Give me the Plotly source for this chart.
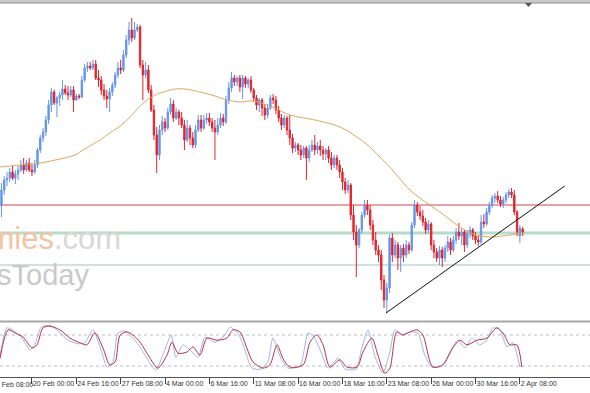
import plotly.graph_objects as go

# ---------------- data ----------------
bar_index = list(range(5, 194))

opens = [1.0915, 1.0930, 1.0940, 1.0942, 1.0948, 1.0942, 1.0946, 1.0950, 1.0955, 1.0950,
         1.0957, 1.0950, 1.0948, 1.0955, 1.0970, 1.0982, 1.0988, 1.1000, 1.1015, 1.1028,
         1.1017, 1.1022, 1.1025, 1.1031, 1.1027, 1.1025, 1.1030, 1.1020, 1.1024, 1.1023,
         1.1040, 1.1052, 1.1054, 1.1052, 1.1056, 1.1042, 1.1040, 1.1030, 1.1024, 1.1021,
         1.1028, 1.1035, 1.1045, 1.1052, 1.1050, 1.1065, 1.1080, 1.1090, 1.1082, 1.1090,
         1.1093, 1.1055, 1.1045, 1.1050, 1.1030, 1.1010, 1.0985, 1.0965, 1.0990, 1.0998,
         1.0992, 1.1008, 1.1016, 1.1002, 1.1008, 1.1002, 1.0995, 1.0980, 1.0992, 1.0982,
         1.0975, 1.0990, 1.1000, 1.0992, 1.1000, 1.1002, 1.0998, 1.0992, 1.0988, 1.0995,
         1.1002, 1.0998, 1.1020, 1.1032, 1.1042, 1.1038, 1.1042, 1.1033, 1.1042, 1.1036,
         1.1040, 1.1030, 1.1022, 1.1015, 1.1020, 1.1012, 1.1005, 1.1012, 1.1022, 1.1020,
         1.1010, 1.1002, 1.0995, 1.1002, 1.0990, 1.0982, 1.0972, 1.0975, 1.0970, 1.0965,
         1.0972, 1.0962, 1.0970, 1.0975, 1.0970, 1.0974, 1.0970, 1.0966, 1.0970, 1.0962,
         1.0955, 1.0962, 1.0955, 1.0948, 1.0938, 1.0930, 1.0935, 1.0905, 1.0888, 1.0875,
         1.0890, 1.0905, 1.0915, 1.0910, 1.0895, 1.0880, 1.0870, 1.0865, 1.0840, 1.0820,
         1.0832, 1.0882, 1.0865, 1.0875, 1.0862, 1.0872, 1.0865, 1.0875, 1.0870, 1.0895,
         1.0915, 1.0908, 1.0904, 1.0898, 1.0890, 1.0896, 1.0875, 1.0868, 1.0862, 1.0870,
         1.0862, 1.0872, 1.0878, 1.0870, 1.0880, 1.0888, 1.0884, 1.0888, 1.0875, 1.0886,
         1.0890, 1.0884, 1.0880, 1.0878, 1.0898, 1.0896, 1.0908, 1.0915, 1.0922, 1.0924,
         1.0920, 1.0916, 1.0920, 1.0925, 1.0928, 1.0925, 1.0908, 1.0884, 1.0891]

highs = [1.0937, 1.0944, 1.0948, 1.0952, 1.0954, 1.0950, 1.0954, 1.0960, 1.0962, 1.0960,
         1.0962, 1.0956, 1.0960, 1.0972, 1.0985, 1.0992, 1.1004, 1.1020, 1.1032, 1.1030,
         1.1024, 1.1028, 1.1040, 1.1035, 1.1034, 1.1034, 1.1034, 1.1026, 1.1026, 1.1044,
         1.1056, 1.1058, 1.1058, 1.1060, 1.1060, 1.1050, 1.1044, 1.1036, 1.1030, 1.1032,
         1.1038, 1.1048, 1.1058, 1.1060, 1.1070, 1.1085, 1.1098, 1.1102, 1.1098, 1.1096,
         1.1095, 1.1060, 1.1058, 1.1055, 1.1035, 1.1015, 1.0993, 1.0995, 1.1004, 1.1002,
         1.1012, 1.1022, 1.1020, 1.1012, 1.1010, 1.1008, 1.1000, 1.1000, 1.0995, 1.0988,
         1.0995, 1.1005, 1.1005, 1.1005, 1.1007, 1.1007, 1.1002, 1.1000, 1.1002, 1.1007,
         1.1006, 1.1024, 1.1038, 1.1048, 1.1045, 1.1044, 1.1045, 1.1045, 1.1044, 1.1042,
         1.1044, 1.1032, 1.1025, 1.1022, 1.1022, 1.1016, 1.1016, 1.1025, 1.1026, 1.1024,
         1.1014, 1.1006, 1.1005, 1.1004, 1.1005, 1.0986, 1.0978, 1.0977, 1.0975, 1.0974,
         1.0974, 1.0975, 1.0980, 1.0985, 1.0978, 1.0980, 1.0974, 1.0972, 1.0974, 1.0968,
         1.0965, 1.0965, 1.0960, 1.0952, 1.0942, 1.0940, 1.0937, 1.0915, 1.0895, 1.0892,
         1.0908, 1.0920, 1.0920, 1.0915, 1.0900, 1.0888, 1.0875, 1.0870, 1.0845, 1.0837,
         1.0885, 1.0887, 1.0880, 1.0878, 1.0875, 1.0876, 1.0880, 1.0878, 1.0898, 1.0920,
         1.0918, 1.0914, 1.0910, 1.0902, 1.0900, 1.0898, 1.0880, 1.0872, 1.0874, 1.0873,
         1.0875, 1.0884, 1.0882, 1.0884, 1.0892, 1.0897, 1.0892, 1.0890, 1.0890, 1.0894,
         1.0892, 1.0888, 1.0885, 1.0905, 1.0906, 1.0912, 1.0918, 1.0925, 1.0927, 1.0929,
         1.0924, 1.0923, 1.0928, 1.0931, 1.0932, 1.0930, 1.0910, 1.0895, 1.0893]

lows = [1.0903, 1.0925, 1.0934, 1.0938, 1.0940, 1.0936, 1.0940, 1.0948, 1.0946, 1.0948,
        1.0948, 1.0944, 1.0946, 1.0952, 1.0967, 1.0978, 1.0984, 1.0996, 1.1008, 1.1015,
        1.1003, 1.1014, 1.1020, 1.1025, 1.1020, 1.1023, 1.1008, 1.1019, 1.1021, 1.1022,
        1.1038, 1.1048, 1.1050, 1.1050, 1.1040, 1.1033, 1.1025, 1.1020, 1.1012, 1.1008,
        1.1024, 1.1032, 1.1042, 1.1046, 1.1048, 1.1062, 1.1075, 1.1078, 1.1080, 1.1088,
        1.1052, 1.1020, 1.1042, 1.1027, 1.1008, 1.0980, 1.0947, 1.0960, 1.0985, 1.0988,
        1.0990, 1.1005, 1.0998, 1.1000, 1.0995, 1.0992, 1.0970, 1.0978, 1.0975, 1.0972,
        1.0972, 1.0988, 1.0988, 1.0990, 1.0996, 1.0994, 1.0988, 1.0960, 1.0985, 1.0992,
        1.0994, 1.0996, 1.1016, 1.1028, 1.1034, 1.1034, 1.1028, 1.1021, 1.1032, 1.1032,
        1.1027, 1.1018, 1.1010, 1.1008, 1.1004, 1.1000, 1.1002, 1.1010, 1.1016, 1.1006,
        1.0998, 1.0990, 1.0992, 1.0985, 1.0975, 1.0967, 1.0968, 1.0965, 1.0960, 1.0962,
        1.0940, 1.0958, 1.0968, 1.0965, 1.0966, 1.0964, 1.0960, 1.0960, 1.0957, 1.0950,
        1.0952, 1.0950, 1.0942, 1.0930, 1.0926, 1.0927, 1.0900, 1.0880, 1.0843, 1.0872,
        1.0887, 1.0902, 1.0905, 1.0890, 1.0875, 1.0865, 1.0858, 1.0830, 1.0812, 1.0807,
        1.0827, 1.0858, 1.0862, 1.0850, 1.0848, 1.0858, 1.0862, 1.0866, 1.0868, 1.0892,
        1.0904, 1.0900, 1.0894, 1.0886, 1.0887, 1.0870, 1.0862, 1.0858, 1.0855, 1.0853,
        1.0858, 1.0868, 1.0865, 1.0868, 1.0876, 1.0880, 1.0875, 1.0868, 1.0872, 1.0882,
        1.0880, 1.0876, 1.0874, 1.0876, 1.0892, 1.0894, 1.0905, 1.0912, 1.0917, 1.0917,
        1.0913, 1.0912, 1.0917, 1.0922, 1.0922, 1.0905, 1.0884, 1.0877, 1.0884]

closes = [1.0930, 1.0940, 1.0942, 1.0948, 1.0942, 1.0946, 1.0950, 1.0955, 1.0950, 1.0957,
          1.0950, 1.0948, 1.0955, 1.0970, 1.0982, 1.0988, 1.1000, 1.1015, 1.1028, 1.1017,
          1.1022, 1.1025, 1.1031, 1.1027, 1.1025, 1.1030, 1.1020, 1.1024, 1.1023, 1.1040,
          1.1052, 1.1054, 1.1052, 1.1056, 1.1042, 1.1040, 1.1030, 1.1024, 1.1021, 1.1028,
          1.1035, 1.1045, 1.1052, 1.1050, 1.1065, 1.1080, 1.1090, 1.1082, 1.1090, 1.1093,
          1.1055, 1.1045, 1.1050, 1.1030, 1.1010, 1.0985, 1.0965, 1.0990, 1.0998, 1.0992,
          1.1008, 1.1016, 1.1002, 1.1008, 1.1002, 1.0995, 1.0980, 1.0992, 1.0982, 1.0975,
          1.0990, 1.1000, 1.0992, 1.1000, 1.1002, 1.0998, 1.0992, 1.0988, 1.0995, 1.1002,
          1.0998, 1.1020, 1.1032, 1.1042, 1.1038, 1.1042, 1.1033, 1.1042, 1.1036, 1.1040,
          1.1030, 1.1022, 1.1015, 1.1020, 1.1012, 1.1005, 1.1012, 1.1022, 1.1020, 1.1010,
          1.1002, 1.0995, 1.1002, 1.0990, 1.0982, 1.0972, 1.0975, 1.0970, 1.0965, 1.0972,
          1.0962, 1.0970, 1.0975, 1.0970, 1.0974, 1.0970, 1.0966, 1.0970, 1.0962, 1.0955,
          1.0962, 1.0955, 1.0948, 1.0938, 1.0930, 1.0935, 1.0905, 1.0888, 1.0875, 1.0890,
          1.0905, 1.0915, 1.0910, 1.0895, 1.0880, 1.0870, 1.0865, 1.0840, 1.0820, 1.0832,
          1.0882, 1.0865, 1.0875, 1.0862, 1.0872, 1.0865, 1.0875, 1.0870, 1.0895, 1.0915,
          1.0908, 1.0904, 1.0898, 1.0890, 1.0896, 1.0875, 1.0868, 1.0862, 1.0870, 1.0862,
          1.0872, 1.0878, 1.0870, 1.0880, 1.0888, 1.0884, 1.0888, 1.0875, 1.0886, 1.0890,
          1.0884, 1.0880, 1.0878, 1.0898, 1.0896, 1.0908, 1.0915, 1.0922, 1.0924, 1.0920,
          1.0916, 1.0920, 1.0925, 1.0928, 1.0925, 1.0908, 1.0888, 1.0892, 1.0888]

ma_index = [4.5, 11.7, 18.9, 26.1, 31.5, 34.4, 36.9, 40.5, 44.1, 47.8,
            51.4, 55, 58.6, 62.2, 67.6, 71.2, 76.6, 82, 86.3, 91,
            95.7, 101.8, 109, 118.1, 127.1, 133.2, 137.9, 142.6, 145.1, 152.3,
            159.5, 164.2, 169.3, 175.1, 181.2, 188.4, 193.8]
ma_values = [1.0953, 1.0955, 1.0957, 1.0961, 1.0965, 1.0970, 1.0974, 1.0980, 1.0987, 1.0994,
             1.1003, 1.1014, 1.1022, 1.1027, 1.1031, 1.1031, 1.1028, 1.1024, 1.1020, 1.1018,
             1.1019, 1.1014, 1.1005, 1.1000, 1.0993, 1.0983, 1.0973, 1.0960, 1.0953, 1.0930,
             1.0915, 1.0906, 1.0895, 1.0886, 1.0883, 1.0885, 1.0887]

stoch_k_index = [4.5, 7, 9.9, 12.4, 15.3, 17.1, 19.3, 22.5, 25.4, 29,
                 32.6, 35.1, 38, 40.9, 43.1, 45.2, 47, 49.5, 51.7, 54.2,
                 57.8, 60.7, 63.6, 66.2, 67.9, 70.5, 73, 75.9, 78.4, 82,
                 85.3, 87.4, 90.3, 92.8, 95.3, 98.6, 101.1, 102.9, 105.8, 108.3,
                 112.7, 115.6, 117.7, 120, 122.8, 126.4, 128.9, 132.9, 135, 137.2,
                 139.7, 142.6, 145.1, 146.9, 149.4, 152.3, 155.2, 157.7, 160.3, 164.2,
                 166.8, 169.6, 172.2, 174.7, 177.6, 180.1, 182.3, 184.8, 187.3, 189.5, 192]
stoch_k = [41, 94, 86, 74, 51, 63, 95, 99, 88, 70,
           63, 65, 90, 51, 18, 28, 84, 88, 78, 63,
           32, 12, 47, 80, 37, 61, 51, 37, 76, 66,
           78, 95, 84, 51, 16, 14, 28, 74, 35, 16,
           20, 84, 76, 51, 16, 35, 14, 14, 55, 90,
           39, 6, 47, 90, 80, 86, 84, 41, 18, 22,
           47, 70, 55, 74, 61, 70, 94, 90, 57, 65, 18]

stoch_d_index = [4.5, 7.4, 9.9, 12.8, 16, 17.8, 20, 22.5, 26.1, 29.7,
                 33.3, 35.8, 38.7, 41.6, 44.1, 46, 47.8, 50.3, 52.4, 55,
                 58.6, 61.4, 64.7, 66.5, 68.7, 71.9, 74.1, 76.6, 79.1, 82.7,
                 86.3, 88.5, 91, 93.5, 95.7, 99.3, 101.8, 104.4, 106.5, 109,
                 113.8, 116.3, 118.8, 121, 123.5, 127.1, 129.6, 133.3, 135.4, 138.6,
                 140.8, 143.3, 145.1, 147.6, 149.8, 152.3, 154.9, 157, 160.6, 164.2,
                 167.8, 170.4, 172.9, 176.5, 180.1, 183.7, 185.9, 188.4, 190.9, 192.7]
stoch_d = [35, 90, 84, 76, 55, 61, 94, 97, 90, 74,
           65, 61, 84, 55, 22, 28, 80, 86, 80, 66,
           35, 16, 41, 66, 45, 47, 57, 41, 74, 70,
           74, 90, 86, 55, 28, 16, 22, 61, 35, 18,
           22, 66, 80, 61, 18, 32, 18, 18, 47, 74,
           41, 6, 16, 86, 80, 86, 90, 80, 18, 22,
           55, 70, 61, 70, 74, 94, 84, 61, 61, 18]
stoch_levels = [20, 80]

level_prices = [1.0915, 1.0887, 1.0855]
trend_index = [143.7, 208.2]
trend_price = [1.0807, 1.0934]

tick_index = [16, 32, 48, 64, 80, 96, 112, 128, 144, 160, 176, 192]
tick_labels = ["20 Feb 00:00", "24 Feb 16:00", "27 Feb 08:00", "4 Mar 00:00",
               "6 Mar 16:00", "11 Mar 08:00", "16 Mar 00:00", "18 Mar 16:00",
               "23 Mar 08:00", "26 Mar 00:00", "30 Mar 16:00", "2 Apr 08:00"]
first_tick_index = 0
first_tick_label = "17 Feb 08:00"

# ---------------- styling / layout ----------------
W, H = 590, 393
MB = 16
PH = H - MB
X_RANGE = [4.47, 217.3]
BULL = "#6495ED"
BEAR = "#E3232C"
FONT = "Liberation Sans Narrow, Liberation Sans, Arial, sans-serif"


def py(px):
    return (PH - px) / PH


def px_of_index(i):
    return (i - X_RANGE[0]) / (X_RANGE[1] - X_RANGE[0]) * W


fig = go.Figure()

fig.add_trace(go.Candlestick(
    x=bar_index, open=opens, high=highs, low=lows, close=closes,
    increasing=dict(line=dict(color=BULL, width=1), fillcolor=BULL),
    decreasing=dict(line=dict(color=BEAR, width=1), fillcolor=BEAR),
    whiskerwidth=0, showlegend=False, hoverinfo="skip",
    xaxis="x", yaxis="y"))

fig.add_trace(go.Scatter(
    x=ma_index, y=ma_values, mode="lines",
    line=dict(color="#E2A65C", width=1, shape="spline", smoothing=0.8),
    showlegend=False, hoverinfo="skip", xaxis="x", yaxis="y"))

fig.add_trace(go.Scatter(
    x=trend_index, y=trend_price, mode="lines",
    line=dict(color="#111111", width=1),
    showlegend=False, hoverinfo="skip", xaxis="x", yaxis="y"))

fig.add_trace(go.Scatter(
    x=stoch_k_index, y=stoch_k, mode="lines",
    line=dict(color="#9DB6E6", width=1, shape="spline", smoothing=0.6),
    showlegend=False, hoverinfo="skip", xaxis="x2", yaxis="y2"))

fig.add_trace(go.Scatter(
    x=stoch_d_index, y=stoch_d, mode="lines",
    line=dict(color="#B8304A", width=1, shape="spline", smoothing=0.8),
    showlegend=False, hoverinfo="skip", xaxis="x2", yaxis="y2"))

level_styles = [dict(color="#D04848", width=1),
                dict(color="#B5DCC8", width=3),
                dict(color="#9CC7BE", width=1)]
shapes = []
for lv, st in zip(level_prices, level_styles):
    shapes.append(dict(type="line", xref="paper", yref="y", x0=0, x1=1,
                       y0=lv, y1=lv, line=st, layer="below"))
for lv in stoch_levels:
    shapes.append(dict(type="line", xref="paper", yref="y2", x0=0, x1=1,
                       y0=lv, y1=lv, line=dict(color="#BDBDBD", width=1, dash="dot"),
                       layer="below"))
# window frame details
shapes.append(dict(type="rect", xref="paper", yref="paper", x0=0, x1=1,
                   y0=py(3), y1=1, fillcolor="#C9C9C9", line=dict(width=0)))
shapes.append(dict(type="line", xref="paper", yref="paper", x0=0, x1=1,
                   y0=py(3), y1=py(3), line=dict(color="#8C8C8C", width=1)))
shapes.append(dict(type="line", xref="paper", yref="paper", x0=0, x1=1,
                   y0=py(321.5), y1=py(321.5), line=dict(color="#A6A6A6", width=2)))
shapes.append(dict(type="path", xref="paper", yref="paper",
                   path=f"M {525/W} {py(3)} L {532/W} {py(3)} L {528.5/W} {py(7)} Z",
                   fillcolor="#555555", line=dict(width=0)))

annotations = [
    dict(xref="paper", yref="paper", x=123 / W, y=py(258), xanchor="right", yanchor="bottom",
         text="<span style='color:#F5C3A2'>economies</span><span style='color:#D8D8D8'>.com</span>",
         showarrow=False, font=dict(family="Liberation Sans, Arial", size=31)),
    dict(xref="paper", yref="paper", x=91 / W, y=py(257), xanchor="right", yanchor="top",
         text="NewsToday", showarrow=False,
         font=dict(family="Liberation Sans, Arial", size=29, color="#C9C9C9")),
    dict(xref="paper", yref="paper", x=(px_of_index(first_tick_index) + 2) / W, y=py(379),
         xanchor="left", yanchor="top", text=first_tick_label, showarrow=False,
         font=dict(family=FONT, size=7, color="#333333")),
]

fig.update_layout(
    width=W, height=H,
    margin=dict(l=0, r=0, t=0, b=MB, autoexpand=False),
    paper_bgcolor="white", plot_bgcolor="white",
    showlegend=False,
    shapes=shapes, annotations=annotations,
    xaxis=dict(domain=[0, 1], range=X_RANGE, anchor="y", showticklabels=False,
               showgrid=False, zeroline=False, showline=False, ticks="",
               automargin=False, rangeslider=dict(visible=False)),
    yaxis=dict(domain=[py(320), py(3)], range=[1.0800, 1.1117], anchor="x",
               showticklabels=False, showgrid=False, zeroline=False, showline=False,
               ticks="", automargin=False),
    xaxis2=dict(domain=[0, 1], range=X_RANGE, anchor="y2",
                tickmode="array", tickvals=tick_index, ticktext=tick_labels,
                ticklabelposition="outside right", tickangle=0, ticks="outside", ticklen=6,
                tickcolor="#444444", tickwidth=1, automargin=False,
                tickfont=dict(family=FONT, size=7, color="#333333"),
                showgrid=False, zeroline=False, showline=True, linecolor="#555555",
                linewidth=1, rangeslider=dict(visible=False)),
    yaxis2=dict(domain=[0, py(322)], range=[-1.3, 105.2], anchor="x2",
                showticklabels=False, showgrid=False, zeroline=False, showline=False,
                ticks="", automargin=False),
)

fig.write_html("out.html", config={"displayModeBar": False},
               post_script="document.body.style.margin='0';document.body.style.overflow='hidden';")
